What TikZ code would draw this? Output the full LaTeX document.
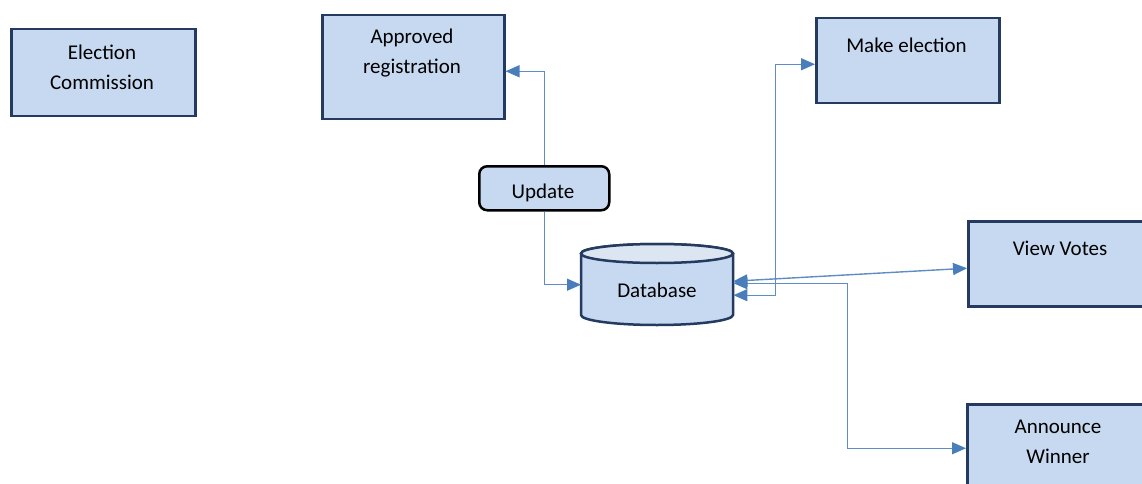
\documentclass[tikz,border=0pt]{standalone}
\usepackage{fontspec}
\setmainfont{Carlito}
\usetikzlibrary{arrows.meta,calc}
\definecolor{boxfill}{RGB}{198,217,241}
\definecolor{topfill}{RGB}{220,230,242}
\definecolor{boxline}{RGB}{36,58,94}
\definecolor{arrcol}{RGB}{74,126,187}
\definecolor{linecol}{RGB}{95,140,196}
\tikzset{
  box/.style={draw=boxline, line width=2.5pt, fill=boxfill, inner sep=0pt, anchor=north west},
  updbox/.style={draw=black, line width=2.5pt, fill=boxfill, rounded corners=8pt, inner sep=0pt, anchor=north west},
  lbl/.style={font=\fontsize{21}{30}\selectfont, align=center, inner sep=0pt, text=black},
  ghost/.style={inner sep=0pt, anchor=north west},
  arr/.style={draw=linecol, line width=1.4pt, -{Triangle[length=14pt,width=12pt,color=arrcol,fill=arrcol]}},
  darr/.style={draw=linecol, line width=1.4pt, {Triangle[length=14pt,width=12pt,color=arrcol,fill=arrcol]}-{Triangle[length=14pt,width=12pt,color=arrcol,fill=arrcol]}},
}
\begin{document}
\begin{tikzpicture}[x=1pt,y=-1pt]
\useasboundingbox (0,0) rectangle (1142,484);
\clip (0,0) rectangle (1142,484);
% boxes
\node[box, minimum width=184pt, minimum height=87pt] (ec) at (10,28) {};
\node[box, minimum width=182pt, minimum height=104pt] (ar) at (321,14) {};
\node[box, minimum width=183pt, minimum height=85pt] (me) at (815,17) {};
\node[box, minimum width=200pt, minimum height=85pt] (vv) at (967,220) {};
\node[box, minimum width=200pt, minimum height=94pt] (aw) at (966,403) {};
\node[updbox, minimum width=130pt, minimum height=44pt] (upd) at (478,165) {};
% database cylinder
\node[ghost, minimum width=152pt, minimum height=81pt] (db) at (581,244) {};
\path[draw=boxline, line width=2.5pt, fill=boxfill]
  (581,253.5) -- (581,315) arc[start angle=180, end angle=360, x radius=76pt, y radius=10pt]
  -- (733,253.5) arc[start angle=0, end angle=180, x radius=76pt, y radius=9.5pt] -- cycle;
\path[draw=boxline, line width=2.5pt, fill=topfill] (657,253.5) ellipse[x radius=76pt, y radius=9.5pt];
% labels
\node[lbl] (ect) at (102,67) {Election\\Commission};
\node[lbl] (art) at (412,53) {Approved\\registration};
\node[lbl] (met) at (906.5,45) {Make election};
\node[lbl] (vvt) at (1060,248) {View Votes};
\node[lbl] (awt) at (1058,442) {Announce\\Winner};
\node[lbl] (updt) at (543,193) {Update};
\node[lbl] (dbt) at (657,290) {Database};
% connectors
\draw[arr] (upd.north) |- ([yshift=-4pt]ar.east);
\draw[arr] (upd.south) |- (db.west);
\draw[darr] ([yshift=-10.5pt]db.east) -- ++(42,0) |- ([yshift=-3.5pt]me.west);
\draw[darr] ([yshift=3.5pt]db.east) -- ([yshift=-4.5pt]vv.west);
\draw[darr] ([yshift=1.5pt]db.east) -- ++(114,0) |- ([yshift=3pt]aw.west);
\end{tikzpicture}
\end{document}
